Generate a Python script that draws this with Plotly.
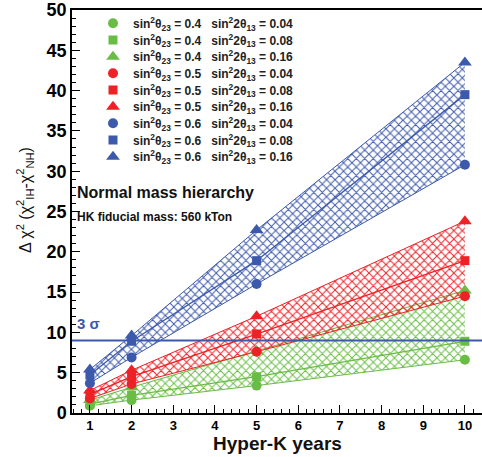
import plotly.graph_objects as go

# ---------------- data ----------------
years = [1, 2, 5, 10]

green_circle = [0.9, 1.6, 3.4, 6.6]     # sin2t23=0.4, sin22t13=0.04
green_square = [1.1, 2.2, 4.5, 8.9]     # 0.4, 0.08
green_triangle = [1.6, 3.2, 7.7, 15.2]  # 0.4, 0.16
red_circle = [1.8, 3.6, 7.6, 14.5]      # 0.5, 0.04
red_square = [2.3, 4.5, 9.8, 18.9]      # 0.5, 0.08
red_triangle = [2.8, 5.3, 12.0, 23.8]   # 0.5, 0.16
blue_circle = [3.7, 6.9, 16.0, 30.8]    # 0.6, 0.04
blue_square = [4.7, 8.9, 18.9, 39.5]    # 0.6, 0.08
blue_triangle = [5.4, 9.6, 22.7, 43.5]  # 0.6, 0.16

sin2_theta23 = ["0.4", "0.5", "0.6"]
sin2_2theta13 = ["0.04", "0.08", "0.16"]
three_sigma = 9

GREEN = "#69bd45"
RED = "#ec2227"
BLUE = "#3d59ab"

groups = [
    (GREEN, green_circle, green_square, green_triangle, sin2_theta23[0]),
    (RED, red_circle, red_square, red_triangle, sin2_theta23[1]),
    (BLUE, blue_circle, blue_square, blue_triangle, sin2_theta23[2]),
]

fig = go.Figure()

# hatched bands with edge / centre lines
for color, lo, mid, hi, _ in groups:
    fig.add_trace(go.Scatter(x=years, y=lo, mode="lines",
                             line=dict(color=color, width=1),
                             showlegend=False, hoverinfo="skip"))
    fig.add_trace(go.Scatter(x=years, y=hi, mode="lines",
                             line=dict(color=color, width=1),
                             fill="tonexty", fillcolor="rgba(0,0,0,0)",
                             fillpattern=dict(shape="x", fgcolor=color,
                                              bgcolor="rgba(0,0,0,0)",
                                              size=6, solidity=0.3,
                                              fillmode="replace"),
                             showlegend=False, hoverinfo="skip"))
    fig.add_trace(go.Scatter(x=years, y=mid, mode="lines",
                             line=dict(color=color, width=1.3),
                             showlegend=False, hoverinfo="skip"))

# markers (legend entries)
symbols = [("circle", 10), ("square", 9), ("triangle-up", 12)]
PW = 410.0
PH = 403.0
legend_layouts = {}
k = 0
for color, lo, mid, hi, t23 in groups:
    for (sym, size), vals, t13 in zip(symbols, (lo, mid, hi), sin2_2theta13):
        k += 1
        lname = "legend" if k == 1 else f"legend{k}"
        name = (f"sin<sup>2</sup>θ<sub>23</sub> = {t23}\u00a0\u00a0\u00a0"
                f"sin<sup>2</sup>2θ<sub>13</sub> = {t13}")
        fig.add_trace(go.Scatter(x=years, y=vals, mode="markers",
                                 marker=dict(symbol=sym, size=size, color=color,
                                             line=dict(width=0)),
                                 name=name, legend=lname))
        row_y = 23.3 + 16.67 * (k - 1)
        legend_layouts[lname] = dict(
            x=(93 - 72) / PW, y=(413 - row_y) / PH,
            xanchor="left", yanchor="middle",
            bgcolor="rgba(0,0,0,0)", borderwidth=0,
            font=dict(family="Liberation Sans, Arial", size=12,
                      color="#222222", weight="bold"),
        )

fig.add_shape(type="line", xref="paper", x0=0, x1=1, yref="y",
              y0=three_sigma, y1=three_sigma,
              line=dict(color=BLUE, width=2))

fig.update_layout(
    width=482, height=457,
    margin=dict(l=72, r=0, t=10, b=44),
    paper_bgcolor="white", plot_bgcolor="white",
    showlegend=True,
    font=dict(family="Liberation Sans, Arial", color="black"),
    **legend_layouts,
)

fig.update_xaxes(
    range=[0.57, 10.41], showgrid=False, zeroline=False,
    showline=True, linecolor="black", linewidth=1.5, mirror=True,
    ticks="inside", ticklen=8, tickcolor="black", tickwidth=1,
    tick0=0, dtick=1,
    minor=dict(ticks="inside", ticklen=4, dtick=0.2, tick0=0,
               tickcolor="black", showgrid=False),
    tickfont=dict(family="Liberation Sans, Arial", size=13, color="black",
                  weight="bold"),
)
fig.update_yaxes(
    range=[0, 50], showgrid=False, zeroline=False,
    showline=True, linecolor="black", linewidth=1.5, mirror=False,
    ticks="inside", ticklen=8, tickcolor="black", tickwidth=1,
    tick0=0, dtick=5,
    minor=dict(ticks="inside", ticklen=4, dtick=1, tick0=0,
               tickcolor="black", showgrid=False),
    tickfont=dict(family="Liberation Sans, Arial", size=18, color="black",
                  weight="bold"),
)

fig.add_annotation(text="<b>Hyper-K years</b>", xref="paper", yref="paper",
                   x=0.5, y=(413 - 443) / PH, xanchor="center", yanchor="middle",
                   showarrow=False,
                   font=dict(family="Liberation Sans, Arial", size=19, color="#111"))
fig.add_annotation(text="Δ χ<sup>2</sup> (χ<sup>2</sup><sub>IH</sub>-χ<sup>2</sup><sub>NH</sub>)",
                   xref="paper", yref="paper",
                   x=(25 - 72) / PW, y=(413 - 200) / PH, textangle=-90,
                   xanchor="center", yanchor="middle", showarrow=False,
                   font=dict(family="Liberation Sans, Arial", size=16, color="#111"))
fig.add_annotation(text="<b>Normal mass hierarchy</b>", xref="paper", yref="paper",
                   x=(75 - 72) / PW, y=(413 - 192) / PH, xanchor="left",
                   yanchor="middle", showarrow=False,
                   font=dict(family="Liberation Sans, Arial", size=16, color="#111"))
fig.add_annotation(text="<b>HK fiducial mass: 560 kTon</b>", xref="paper", yref="paper",
                   x=(75 - 72) / PW, y=(413 - 217) / PH, xanchor="left",
                   yanchor="middle", showarrow=False,
                   font=dict(family="Liberation Sans, Arial", size=12, color="#111"))
fig.add_annotation(text="<b>3 σ</b>", xref="paper", yref="paper",
                   x=(75 - 72) / PW, y=(413 - 323) / PH, xanchor="left",
                   yanchor="middle", showarrow=False,
                   font=dict(family="Liberation Sans, Arial", size=15, color=BLUE))

fig.write_html("out.html")
